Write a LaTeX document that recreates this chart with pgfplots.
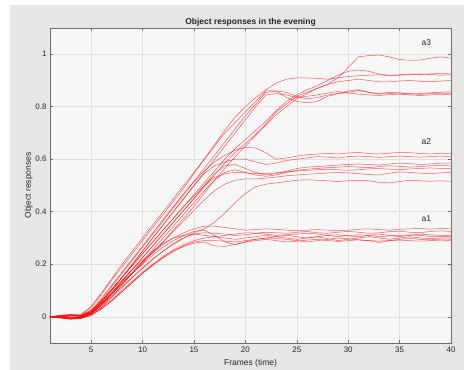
\documentclass[border=0pt]{standalone}
\usepackage{fontspec}
\setmainfont{Liberation Sans}
\usepackage{pgfplots}
\pgfplotsset{compat=1.18}
\definecolor{figbg}{RGB}{230,230,230}
\definecolor{axbg}{RGB}{247,247,247}
\definecolor{gridc}{RGB}{223,223,223}
\definecolor{axc}{RGB}{110,110,110}
\definecolor{txt}{RGB}{38,38,38}
\pgfplotscreateplotcyclelist{redlist}{{red,solid,opacity=0.65,line width=0.5pt,mark=none}\\}
\begin{document}
\begin{tikzpicture}
\useasboundingbox (-50bp,-27bp) rectangle (414bp,343bp);
\fill[white] (-50bp,-27bp) rectangle (414bp,343bp);
\fill[figbg] (-40bp,-27bp) rectangle (414bp,338bp);
\begin{axis}[
  at={(0bp,0bp)}, anchor=south west,
  scale only axis, width=401bp, height=315bp,
  xmin=1, xmax=40, ymin=-0.1, ymax=1.1,
  xtick={5,10,15,20,25,30,35,40},
  ytick={0,0.2,0.4,0.6,0.8,1},
  /pgf/number format/assume math mode=true,
  /pgf/number format/fixed,
  ticklabel style={font=\fontsize{8}{9}\selectfont, text=txt},
  axis background/.style={fill=axbg},
  grid=major,
  major grid style={gridc, line width=0.5pt},
  axis line style={axc, line width=0.5pt},
  tick style={axc, line width=0.5pt},
  major tick length=3bp,
  title={Object responses in the evening},
  title style={font=\bfseries\fontsize{8.5}{10}\selectfont, text=txt, yshift=-8bp},
  xlabel={Frames (time)},
  ylabel={Object responses},
  label style={font=\fontsize{8.5}{10}\selectfont, text=txt},
  ylabel style={yshift=-4bp},
  cycle list name=redlist,
]
% a1 group
\addplot coordinates {(1,0)(2,0.003)(3,0.005)(4,0.002)(5,0.02)(6,0.05)(7,0.09)(8,0.13)(9,0.17)(10,0.21)(11,0.245)(12,0.275)(13,0.3)(14,0.32)(15,0.335)(16,0.345)(17,0.345)(18,0.34)(19,0.335)(20,0.33)(21,0.332)(22,0.335)(23,0.333)(24,0.33)(25,0.328)(26,0.33)(27,0.332)(28,0.33)(29,0.328)(30,0.33)(31,0.333)(32,0.335)(33,0.332)(34,0.33)(35,0.333)(36,0.335)(37,0.336)(38,0.334)(39,0.336)(40,0.335)};
\addplot coordinates {(1,0)(2,-0.004)(3,-0.006)(4,0)(5,0.015)(6,0.04)(7,0.075)(8,0.11)(9,0.15)(10,0.185)(11,0.22)(12,0.25)(13,0.28)(14,0.3)(15,0.315)(16,0.32)(17,0.318)(18,0.315)(19,0.31)(20,0.312)(21,0.318)(22,0.322)(23,0.32)(24,0.318)(25,0.322)(26,0.325)(27,0.32)(28,0.318)(29,0.322)(30,0.325)(31,0.322)(32,0.318)(33,0.32)(34,0.324)(35,0.326)(36,0.322)(37,0.32)(38,0.325)(39,0.327)(40,0.325)};
\addplot coordinates {(1,0)(2,0.004)(3,0.008)(4,0.004)(5,0.02)(6,0.055)(7,0.09)(8,0.13)(9,0.165)(10,0.2)(11,0.235)(12,0.265)(13,0.29)(14,0.31)(15,0.325)(16,0.33)(17,0.31)(18,0.285)(19,0.275)(20,0.285)(21,0.295)(22,0.3)(23,0.305)(24,0.31)(25,0.305)(26,0.3)(27,0.305)(28,0.31)(29,0.312)(30,0.308)(31,0.305)(32,0.31)(33,0.315)(34,0.31)(35,0.305)(36,0.31)(37,0.315)(38,0.312)(39,0.31)(40,0.31)};
\addplot coordinates {(1,0)(2,-0.003)(3,-0.008)(4,-0.004)(5,0.008)(6,0.03)(7,0.06)(8,0.095)(9,0.13)(10,0.165)(11,0.2)(12,0.23)(13,0.255)(14,0.275)(15,0.29)(16,0.3)(17,0.305)(18,0.3)(19,0.295)(20,0.3)(21,0.305)(22,0.31)(23,0.305)(24,0.3)(25,0.295)(26,0.3)(27,0.305)(28,0.298)(29,0.29)(30,0.295)(31,0.3)(32,0.305)(33,0.3)(34,0.295)(35,0.3)(36,0.305)(37,0.3)(38,0.298)(39,0.3)(40,0.3)};
\addplot coordinates {(1,0)(2,0.002)(3,-0.004)(4,-0.002)(5,0.01)(6,0.035)(7,0.065)(8,0.1)(9,0.135)(10,0.17)(11,0.2)(12,0.225)(13,0.25)(14,0.27)(15,0.285)(16,0.29)(17,0.29)(18,0.288)(19,0.285)(20,0.29)(21,0.295)(22,0.3)(23,0.298)(24,0.295)(25,0.29)(26,0.285)(27,0.29)(28,0.295)(29,0.3)(30,0.297)(31,0.293)(32,0.29)(33,0.283)(34,0.29)(35,0.295)(36,0.298)(37,0.295)(38,0.293)(39,0.296)(40,0.295)};
\addplot coordinates {(1,0)(2,-0.005)(3,-0.01)(4,-0.006)(5,0.005)(6,0.03)(7,0.06)(8,0.095)(9,0.13)(10,0.165)(11,0.195)(12,0.225)(13,0.25)(14,0.268)(15,0.28)(16,0.285)(17,0.27)(18,0.268)(19,0.275)(20,0.285)(21,0.29)(22,0.295)(23,0.29)(24,0.285)(25,0.288)(26,0.292)(27,0.295)(28,0.29)(29,0.287)(30,0.29)(31,0.293)(32,0.29)(33,0.288)(34,0.29)(35,0.292)(36,0.29)(37,0.288)(38,0.29)(39,0.292)(40,0.29)};
\addplot coordinates {(1,0)(2,0)(3,0.004)(4,0.006)(5,0.025)(6,0.06)(7,0.1)(8,0.14)(9,0.18)(10,0.215)(11,0.25)(12,0.28)(13,0.3)(14,0.31)(15,0.315)(16,0.31)(17,0.305)(18,0.31)(19,0.315)(20,0.32)(21,0.318)(22,0.315)(23,0.31)(24,0.312)(25,0.315)(26,0.318)(27,0.315)(28,0.31)(29,0.305)(30,0.31)(31,0.312)(32,0.31)(33,0.305)(34,0.308)(35,0.31)(36,0.312)(37,0.31)(38,0.306)(39,0.305)(40,0.305)};
% a2 group
\addplot coordinates {(1,0)(2,0.003)(3,0.006)(4,0.003)(5,0.015)(6,0.045)(7,0.08)(8,0.115)(9,0.15)(10,0.185)(11,0.22)(12,0.25)(13,0.275)(14,0.3)(15,0.32)(16,0.335)(17,0.36)(18,0.395)(19,0.435)(20,0.47)(21,0.495)(22,0.505)(23,0.51)(24,0.515)(25,0.52)(26,0.522)(27,0.52)(28,0.518)(29,0.515)(30,0.518)(31,0.52)(32,0.518)(33,0.512)(34,0.51)(35,0.515)(36,0.52)(37,0.518)(38,0.516)(39,0.518)(40,0.516)};
\addplot coordinates {(1,0)(2,0.004)(3,0.006)(4,0.002)(5,0.025)(6,0.07)(7,0.12)(8,0.17)(9,0.22)(10,0.27)(11,0.32)(12,0.37)(13,0.42)(14,0.47)(15,0.515)(16,0.555)(17,0.59)(18,0.615)(19,0.635)(20,0.645)(21,0.643)(22,0.625)(23,0.6)(24,0.605)(25,0.612)(26,0.617)(27,0.62)(28,0.622)(29,0.62)(30,0.624)(31,0.626)(32,0.622)(33,0.62)(34,0.623)(35,0.626)(36,0.625)(37,0.622)(38,0.62)(39,0.623)(40,0.621)};
\addplot coordinates {(1,0)(2,-0.003)(3,-0.005)(4,-0.002)(5,0.015)(6,0.055)(7,0.1)(8,0.15)(9,0.2)(10,0.25)(11,0.3)(12,0.35)(13,0.4)(14,0.45)(15,0.5)(16,0.545)(17,0.575)(18,0.59)(19,0.6)(20,0.6)(21,0.59)(22,0.58)(23,0.585)(24,0.595)(25,0.6)(26,0.605)(27,0.61)(28,0.608)(29,0.605)(30,0.61)(31,0.612)(32,0.61)(33,0.607)(34,0.61)(35,0.612)(36,0.61)(37,0.608)(38,0.61)(39,0.612)(40,0.61)};
\addplot coordinates {(1,0)(2,0.002)(3,0)(4,-0.004)(5,0.01)(6,0.045)(7,0.09)(8,0.135)(9,0.18)(10,0.225)(11,0.27)(12,0.315)(13,0.36)(14,0.405)(15,0.45)(16,0.5)(17,0.545)(18,0.575)(19,0.58)(20,0.565)(21,0.55)(22,0.54)(23,0.545)(24,0.555)(25,0.565)(26,0.57)(27,0.572)(28,0.575)(29,0.578)(30,0.58)(31,0.582)(32,0.58)(33,0.578)(34,0.582)(35,0.585)(36,0.583)(37,0.58)(38,0.582)(39,0.585)(40,0.585)};
\addplot coordinates {(1,0)(2,-0.004)(3,-0.008)(4,-0.006)(5,0.005)(6,0.035)(7,0.075)(8,0.12)(9,0.165)(10,0.21)(11,0.255)(12,0.3)(13,0.345)(14,0.39)(15,0.435)(16,0.48)(17,0.52)(18,0.55)(19,0.56)(20,0.55)(21,0.54)(22,0.535)(23,0.54)(24,0.55)(25,0.558)(26,0.562)(27,0.565)(28,0.568)(29,0.57)(30,0.572)(31,0.57)(32,0.568)(33,0.572)(34,0.575)(35,0.573)(36,0.57)(37,0.572)(38,0.575)(39,0.576)(40,0.575)};
\addplot coordinates {(1,0)(2,0.003)(3,0.005)(4,0.004)(5,0.02)(6,0.06)(7,0.105)(8,0.15)(9,0.195)(10,0.24)(11,0.285)(12,0.33)(13,0.375)(14,0.42)(15,0.46)(16,0.5)(17,0.53)(18,0.545)(19,0.55)(20,0.548)(21,0.545)(22,0.545)(23,0.548)(24,0.552)(25,0.555)(26,0.558)(27,0.56)(28,0.562)(29,0.56)(30,0.558)(31,0.56)(32,0.563)(33,0.565)(34,0.562)(35,0.56)(36,0.563)(37,0.565)(38,0.567)(39,0.565)(40,0.565)};
\addplot coordinates {(1,0)(2,-0.002)(3,-0.004)(4,0)(5,0.012)(6,0.045)(7,0.085)(8,0.125)(9,0.165)(10,0.205)(11,0.245)(12,0.285)(13,0.325)(14,0.365)(15,0.405)(16,0.445)(17,0.48)(18,0.505)(19,0.52)(20,0.525)(21,0.525)(22,0.528)(23,0.532)(24,0.537)(25,0.54)(26,0.543)(27,0.545)(28,0.548)(29,0.55)(30,0.548)(31,0.545)(32,0.542)(33,0.54)(34,0.547)(35,0.552)(36,0.55)(37,0.547)(38,0.545)(39,0.548)(40,0.55)};
% a3 group
\addplot coordinates {(1,0)(2,0.004)(3,0.008)(4,0.006)(5,0.035)(6,0.085)(7,0.14)(8,0.19)(9,0.24)(10,0.29)(11,0.34)(12,0.39)(13,0.44)(14,0.49)(15,0.545)(16,0.6)(17,0.65)(18,0.7)(19,0.74)(20,0.78)(21,0.82)(22,0.86)(23,0.86)(24,0.855)(25,0.84)(26,0.83)(27,0.835)(28,0.845)(29,0.85)(30,0.86)(31,0.865)(32,0.855)(33,0.85)(34,0.855)(35,0.852)(36,0.848)(37,0.85)(38,0.853)(39,0.855)(40,0.857)};
\addplot coordinates {(1,0)(2,-0.003)(3,-0.002)(4,0)(5,0.02)(6,0.065)(7,0.115)(8,0.165)(9,0.215)(10,0.265)(11,0.315)(12,0.365)(13,0.415)(14,0.465)(15,0.515)(16,0.565)(17,0.615)(18,0.665)(19,0.715)(20,0.765)(21,0.81)(22,0.855)(23,0.86)(24,0.835)(25,0.82)(26,0.815)(27,0.82)(28,0.84)(29,0.85)(30,0.855)(31,0.862)(32,0.855)(33,0.848)(34,0.85)(35,0.853)(36,0.85)(37,0.847)(38,0.85)(39,0.852)(40,0.85)};
\addplot coordinates {(1,0)(2,0.002)(3,-0.004)(4,-0.006)(5,0.015)(6,0.055)(7,0.1)(8,0.15)(9,0.2)(10,0.25)(11,0.3)(12,0.35)(13,0.4)(14,0.45)(15,0.5)(16,0.55)(17,0.6)(18,0.65)(19,0.7)(20,0.75)(21,0.8)(22,0.845)(23,0.85)(24,0.845)(25,0.835)(26,0.84)(27,0.845)(28,0.852)(29,0.858)(30,0.852)(31,0.848)(32,0.845)(33,0.843)(34,0.846)(35,0.848)(36,0.845)(37,0.843)(38,0.845)(39,0.847)(40,0.845)};
\addplot coordinates {(1,0)(2,0.005)(3,0.01)(4,0.008)(5,0.04)(6,0.09)(7,0.145)(8,0.2)(9,0.25)(10,0.3)(11,0.35)(12,0.4)(13,0.45)(14,0.5)(15,0.55)(16,0.6)(17,0.655)(18,0.71)(19,0.76)(20,0.8)(21,0.835)(22,0.865)(23,0.89)(24,0.905)(25,0.91)(26,0.91)(27,0.908)(28,0.905)(29,0.91)(30,0.915)(31,0.918)(32,0.92)(33,0.922)(34,0.918)(35,0.92)(36,0.922)(37,0.925)(38,0.923)(39,0.92)(40,0.922)};
\addplot coordinates {(1,0)(2,-0.004)(3,-0.008)(4,-0.005)(5,0.01)(6,0.045)(7,0.085)(8,0.125)(9,0.165)(10,0.205)(11,0.245)(12,0.285)(13,0.33)(14,0.375)(15,0.42)(16,0.47)(17,0.52)(18,0.565)(19,0.61)(20,0.65)(21,0.69)(22,0.735)(23,0.78)(24,0.81)(25,0.84)(26,0.855)(27,0.87)(28,0.885)(29,0.91)(30,0.95)(31,0.99)(32,0.995)(33,0.997)(34,0.99)(35,0.98)(36,0.977)(37,0.978)(38,0.985)(39,0.99)(40,0.985)};
\addplot coordinates {(1,0)(2,0.003)(3,-0.002)(4,0.002)(5,0.02)(6,0.06)(7,0.105)(8,0.15)(9,0.195)(10,0.24)(11,0.285)(12,0.33)(13,0.375)(14,0.42)(15,0.465)(16,0.51)(17,0.555)(18,0.6)(19,0.64)(20,0.675)(21,0.71)(22,0.745)(23,0.785)(24,0.82)(25,0.845)(26,0.865)(27,0.88)(28,0.9)(29,0.92)(30,0.935)(31,0.94)(32,0.935)(33,0.925)(34,0.92)(35,0.922)(36,0.925)(37,0.923)(38,0.925)(39,0.927)(40,0.925)};
\addplot coordinates {(1,0)(2,-0.002)(3,-0.006)(4,-0.003)(5,0.012)(6,0.05)(7,0.09)(8,0.135)(9,0.18)(10,0.225)(11,0.27)(12,0.315)(13,0.36)(14,0.405)(15,0.45)(16,0.495)(17,0.54)(18,0.585)(19,0.625)(20,0.66)(21,0.695)(22,0.73)(23,0.77)(24,0.8)(25,0.83)(26,0.85)(27,0.87)(28,0.885)(29,0.895)(30,0.9)(31,0.905)(32,0.9)(33,0.895)(34,0.895)(35,0.898)(36,0.9)(37,0.897)(38,0.895)(39,0.898)(40,0.9)};
\node[font=\fontsize{8.5}{10}\selectfont, text=txt] at (axis cs:37.6,1.043) {a3};
\node[font=\fontsize{8.5}{10}\selectfont, text=txt] at (axis cs:37.6,0.668) {a2};
\node[font=\fontsize{8.5}{10}\selectfont, text=txt] at (axis cs:37.6,0.375) {a1};
\end{axis}
\end{tikzpicture}
\end{document}
